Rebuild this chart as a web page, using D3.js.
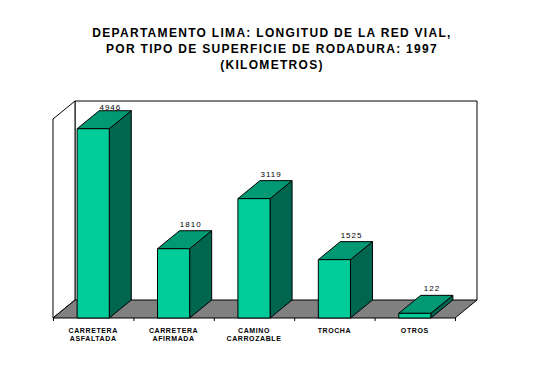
<!DOCTYPE html>
<html>
<head>
<meta charset="utf-8">
<script src="https://cdn.jsdelivr.net/npm/d3@7/dist/d3.min.js"></script>
<style>
  html, body { margin: 0; padding: 0; background: #fff; }
  svg { display: block; }
  text { font-family: Arial, "Liberation Sans", sans-serif; fill: #000; }
</style>
</head>
<body>
<svg id="chart" width="533" height="365"></svg>
<script>
/* Departamento Lima — longitud de la red vial, 1997 */

const TITLE = [
  'DEPARTAMENTO LIMA: LONGITUD DE LA RED VIAL,',
  'POR TIPO DE SUPERFICIE DE RODADURA: 1997',
  '(KILOMETROS)'
];
const categories = ['asf', 'afi', 'cam', 'tro', 'otr'];
const categoryLines = [
  ['CARRETERA', 'ASFALTADA'],
  ['CARRETERA', 'AFIRMADA'],
  ['CAMINO', 'CARROZABLE'],
  ['TROCHA'],
  ['OTROS']
];
const values = [4946, 1810, 3119, 1525, 122];
const yDomain = [0, 5200];

const C = {
  front: '#00cc99',
  top: '#009973',
  side: '#006650',
  floor: '#808080'
};

const svg = d3.select('#chart');

// plot geometry (front plane) and depth offset
const left = 53, right = 455, floorY = 318, topY = 119;
const dx = 22, dy = -18;

const x = d3.scaleBand().domain(categories).range([left, right]).padding(0);
const xBar = d3.scaleBand().domain(categories).range([left, right])
  .paddingInner(0.6).paddingOuter(0.3);
const y = d3.scaleLinear().domain(yDomain).range([floorY, topY]);

const line = d3.line();

// title
svg.append('g').selectAll('text')
  .data(TITLE)
  .join('text')
  .attr('x', 272)
  .attr('y', (d, i) => 37 + i * 16)
  .attr('text-anchor', 'middle')
  .attr('font-size', 12)
  .attr('font-weight', 'bold')
  .attr('letter-spacing', 1.3)
  .text(d => d);

// walls & floor
const walls = svg.append('g').attr('stroke', '#000').attr('stroke-width', 1);
const y0 = y(yDomain[0]), y1 = y(yDomain[1]);
walls.append('path')   // back wall
  .attr('d', line([[left + dx, y0 + dy], [left + dx, y1 + dy], [right + dx, y1 + dy], [right + dx, y0 + dy]]))
  .attr('fill', '#fff');
walls.append('path')   // left wall
  .attr('d', line([[left, y0], [left, y1], [left + dx, y1 + dy], [left + dx, y0 + dy]]) + 'Z')
  .attr('fill', '#fff');
walls.append('path')   // floor
  .attr('d', line([[left, y0], [right, y0], [right + dx, y0 + dy], [left + dx, y0 + dy]]) + 'Z')
  .attr('fill', C.floor);

// category ticks
const tickX = categories.map(c => x(c)).concat([right]);
svg.append('g').selectAll('line')
  .data(tickX)
  .join('line')
  .attr('x1', d => d + 0.5).attr('x2', d => d + 0.5)
  .attr('y1', y0).attr('y2', y0 + 3)
  .attr('stroke', '#000');

// bars
const bars = svg.append('g').selectAll('g')
  .data(values.map((v, i) => ({ cat: categories[i], v })))
  .join('g')
  .attr('stroke', '#000')
  .attr('stroke-width', 1)
  .attr('stroke-linejoin', 'round');

bars.each(function (d) {
  const g = d3.select(this);
  const bx0 = xBar(d.cat), bx1 = bx0 + xBar.bandwidth();
  const ty = y(d.v);
  g.append('path')
    .attr('d', line([[bx1, y0], [bx1, ty], [bx1 + dx, ty + dy], [bx1 + dx, y0 + dy]]) + 'Z')
    .attr('fill', C.side);
  g.append('path')
    .attr('d', line([[bx0, ty], [bx1, ty], [bx1 + dx, ty + dy], [bx0 + dx, ty + dy]]) + 'Z')
    .attr('fill', C.top);
  g.append('rect')
    .attr('x', bx0).attr('y', ty)
    .attr('width', bx1 - bx0).attr('height', y0 - ty)
    .attr('fill', C.front);
});

// value labels
svg.append('g').selectAll('text')
  .data(values.map((v, i) => ({ cat: categories[i], v })))
  .join('text')
  .attr('x', d => xBar(d.cat) + xBar.bandwidth() / 2 + dx * 0.78)
  .attr('y', d => Math.max(y(d.v) + dy - 4, topY - 9))
  .attr('text-anchor', 'middle')
  .attr('font-size', 8)
  .attr('letter-spacing', 1)
  .text(d => d.v);

// category labels
svg.append('g').selectAll('text')
  .data(categories.map((c, i) => ({ c, lines: categoryLines[i] })))
  .join('text')
  .attr('x', d => x(d.c) + x.bandwidth() / 2)
  .attr('y', 333)
  .attr('text-anchor', 'middle')
  .attr('font-size', 7)
  .attr('font-weight', 'bold')
  .attr('letter-spacing', 0.6)
  .selectAll('tspan')
  .data(d => d.lines.map(t => ({ t, cx: x(d.c) + x.bandwidth() / 2 })))
  .join('tspan')
  .attr('x', d => d.cx)
  .attr('dy', (d, i) => i === 0 ? 0 : 8)
  .text(d => d.t);
</script>
</body>
</html>
